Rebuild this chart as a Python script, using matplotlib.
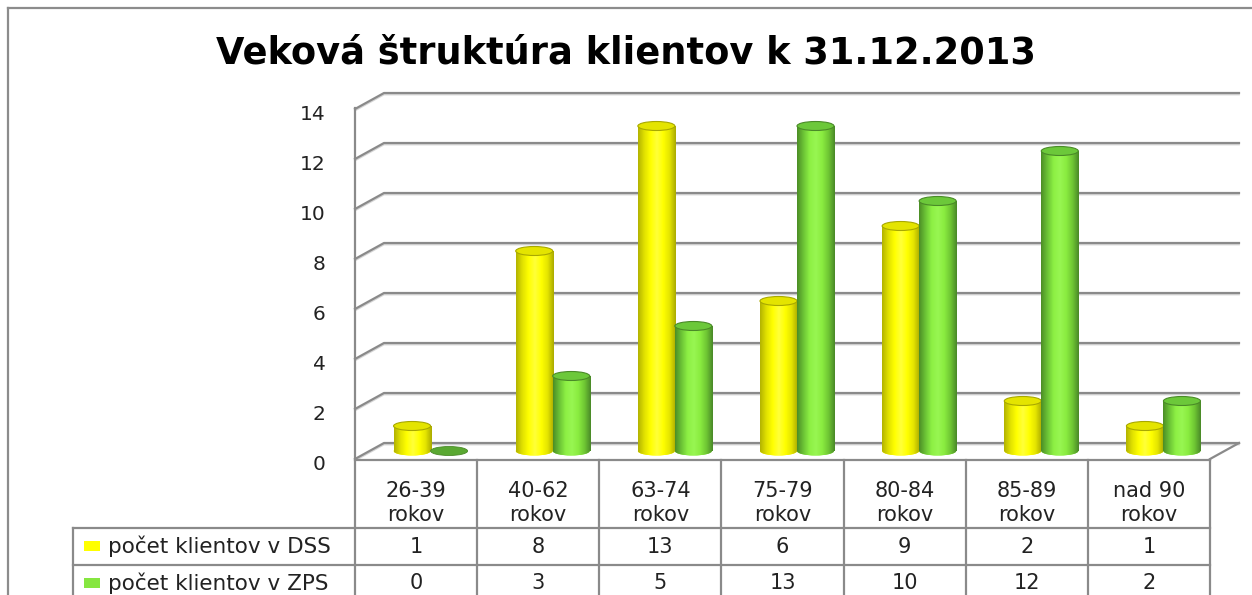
import numpy as np
import matplotlib
matplotlib.use("Agg")
import matplotlib.pyplot as plt
from matplotlib.patches import Ellipse, Rectangle
from matplotlib.lines import Line2D
from matplotlib.colors import LinearSegmentedColormap
import matplotlib.transforms as mtransforms

# ---------------- data ----------------
title = "Veková štruktúra klientov k 31.12.2013"
categories = ["26-39\nrokov", "40-62\nrokov", "63-74\nrokov", "75-79\nrokov",
              "80-84\nrokov", "85-89\nrokov", "nad 90\nrokov"]
series_names = ["počet klientov v DSS", "počet klientov v ZPS"]
dss_values = [1, 8, 13, 6, 9, 2, 1]
zps_values = [0, 3, 5, 13, 10, 12, 2]
y_ticks = [0, 2, 4, 6, 8, 10, 12, 14]

# ---------------- style ----------------
W, H = 1252, 595
FONT = "DejaVu Sans"
GRID = "#8a8a8a"
yellow_grad = ["#b4b400", "#e2e200", "#ffff00", "#ffff3a", "#ffff00", "#e6e600", "#acac00"]
green_grad = ["#4c8e26", "#6cc436", "#8df044", "#98f652", "#8aec40", "#70c834", "#4a8a28"]
yellow_top, yellow_edge = "#e4e400", "#a8a800"
green_top, green_edge = "#6cc83a", "#4a8a28"
zero_green = "#5aa832"
legend_colors = ["#ffff00", "#86e640"]

fig = plt.figure(figsize=(W / 100, H / 100), dpi=100)
fig.patch.set_facecolor("white")

# outer chart border
fig.add_artist(Line2D([8 / W, 8 / W], [0, 1 - 8 / H], color="#8c8c8c", lw=1.6))
fig.add_artist(Line2D([8 / W, 1], [1 - 8 / H, 1 - 8 / H], color="#8c8c8c", lw=1.6))

# front plane of the 3D plot area
x0, x1 = 355, 1210
y_zero, y_top = 459, 109
ax = fig.add_axes([x0 / W, (H - y_zero) / H, (x1 - x0) / W, (y_zero - y_top) / H])
ax.set_xlim(-0.5, len(categories) - 0.5)
ax.set_ylim(0, 14)
ax.patch.set_alpha(0)
for s in ax.spines.values():
    s.set_visible(False)
ax.set_xticks([])
ax.set_yticks(y_ticks)
ax.tick_params(axis="y", length=0, pad=21, labelsize=14.5, labelcolor="#222222")
for lab in ax.get_yticklabels():
    lab.set_fontfamily(FONT)
    lab.set_transform(lab.get_transform() + mtransforms.ScaledTranslation(0, -3 / 100, fig.dpi_scale_trans))

DX, DY = 29, 16  # depth offset in pixels
mid = ax.transData + mtransforms.ScaledTranslation(DX / 200, DY / 200, fig.dpi_scale_trans)
ident = mtransforms.IdentityTransform()

xl, xr = ax.get_xlim()
fig.canvas.draw()
# gridlines on side wall and back wall (inside the axes, behind the bars)
for v in y_ticks:
    fx_, fy_ = ax.transData.transform((xl, v))
    rx, ry = ax.transData.transform((xr, v))
    for off, col, lw in [(-1.6, "#d6d6d6", 1.2), (0, GRID, 1.6)]:
        ax.add_line(Line2D([fx_, fx_ + DX, rx + DX], [fy_ + off, fy_ + DY + off, ry + DY + off],
                           color=col, lw=lw, transform=ident, zorder=1, clip_on=False))
# floor right edge
rx, ry = ax.transData.transform((xr, 0))
ax.add_line(Line2D([rx, rx + DX], [ry, ry + DY], color=GRID, lw=1.6, transform=ident,
                   zorder=1, clip_on=False))

# ---------------- cylinders ----------------
bw = 0.303
eh = 9 / 25.0  # ellipse height in data units


def gradient_image(cols):
    cmap = LinearSegmentedColormap.from_list("g", cols)
    return cmap(np.linspace(0, 1, 64)[None, :])


def cylinder(xc, h, grad, top_col, edge_col, z):
    if h <= 0:
        ax.add_patch(Ellipse((xc, 0), bw, eh, transform=mid, facecolor=zero_green,
                             edgecolor=edge_col, lw=0.6, zorder=z, clip_on=False))
        return
    img = gradient_image(grad)
    body = Rectangle((xc - bw / 2, 0), bw, h, transform=mid, facecolor=grad[2], edgecolor="none",
                     zorder=z, clip_on=False)
    ax.add_patch(body)
    bottom = Ellipse((xc, 0), bw, eh, transform=mid, facecolor=grad[2], edgecolor="none",
                     zorder=z, clip_on=False)
    ax.add_patch(bottom)
    for clip in (body, bottom):
        im = ax.imshow(img, extent=[xc - bw / 2, xc + bw / 2, -eh, h], transform=mid,
                       aspect="auto", zorder=z + 0.1, interpolation="bilinear")
        im.set_clip_path(clip)
    ax.add_patch(Ellipse((xc, h), bw, eh, transform=mid, facecolor=top_col, edgecolor=edge_col,
                         lw=0.8, zorder=z + 0.2, clip_on=False))


for i, (d, zv) in enumerate(zip(dss_values, zps_values)):
    cylinder(i - bw / 2, d, yellow_grad, yellow_top, yellow_edge, 3 + i)
    cylinder(i + bw / 2, zv, green_grad, green_top, green_edge, 3.5 + i)

ax.set_xlim(xl, xr)
ax.set_ylim(0, 14)

# ---------------- data table ----------------
row_top, row_h1, row_h2, row_bot = 460, 528, 565, 600
leg_left = 73


def fy(py):
    return (H - py) / H


def fx(px):
    return px / W


col_edges = [ax.transData.transform((i - 0.5, 0))[0] for i in range(len(categories) + 1)]
lc = GRID
lw = 1.6
fig.add_artist(Line2D([fx(col_edges[0]), fx(col_edges[-1])], [fy(row_top)] * 2, color=lc, lw=lw))
fig.add_artist(Line2D([fx(leg_left), fx(col_edges[-1])], [fy(row_h1)] * 2, color=lc, lw=lw))
fig.add_artist(Line2D([fx(leg_left), fx(col_edges[-1])], [fy(row_h2)] * 2, color=lc, lw=lw))
fig.add_artist(Line2D([fx(leg_left)] * 2, [fy(row_h1), fy(row_bot)], color=lc, lw=lw))
fig.add_artist(Line2D([fx(col_edges[0])] * 2, [fy(y_top - 1), fy(row_bot)], color=lc, lw=lw))
for e in col_edges[1:]:
    fig.add_artist(Line2D([fx(e)] * 2, [fy(row_top), fy(row_bot)], color=lc, lw=lw))

tcol = "#222222"
for i, cat in enumerate(categories):
    cx = (col_edges[i] + col_edges[i + 1]) / 2
    l1, l2 = cat.split("\n")
    fig.text(fx(cx), fy(491), l1, ha="center", va="center", fontsize=15, family=FONT, color=tcol)
    fig.text(fx(cx), fy(515), l2, ha="center", va="center", fontsize=15, family=FONT, color=tcol)
    fig.text(fx(cx), fy(547), str(dss_values[i]), ha="center", va="center", fontsize=15, family=FONT, color=tcol)
    fig.text(fx(cx), fy(583), str(zps_values[i]), ha="center", va="center", fontsize=15, family=FONT, color=tcol)

for j, (name, colr) in enumerate(zip(series_names, legend_colors)):
    yc = 546 if j == 0 else 583
    fig.add_artist(Rectangle((fx(84), fy(yc + 5)), 16 / W, 10 / H, facecolor=colr, edgecolor="none"))
    fig.text(fx(108), fy(yc), name, ha="left", va="center", fontsize=15.5, family=FONT, color=tcol)

# ---------------- title ----------------
t = fig.text(0.5, fy(64), title, ha="center", va="baseline", fontsize=22, fontweight="bold",
             family=FONT, color="black")
fig.canvas.draw()
bb = t.get_window_extent()
t.set_fontsize(22 * 818 / bb.width)

fig.savefig("out.png", dpi=100, facecolor="white")
